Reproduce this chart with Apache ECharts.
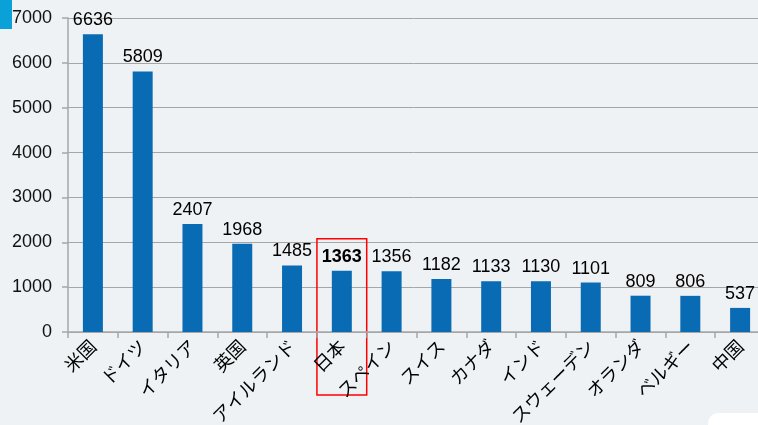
<!DOCTYPE html>
<html>
<head>
<meta charset="utf-8">
<script src="https://cdn.jsdelivr.net/npm/echarts@6/dist/echarts.min.js"></script>
<style>
  html, body { margin: 0; padding: 0; background: #eef2f5; }
  #chart { width: 758px; height: 425px; }
</style>
</head>
<body>
<div id="chart"></div>
<script>
// 国別の値
var countries = ['米国', 'ドイツ', 'イタリア', '英国', 'アイルランド', '日本', 'スペイン', 'スイス', 'カナダ', 'インド', 'スウェーデン', 'オランダ', 'ベルギー', '中国']
var values = [6636, 5809, 2407, 1968, 1485, 1363, 1356, 1182, 1133, 1130, 1101, 809, 806, 537]
var highlight = '日本'

var chart = echarts.init(document.getElementById('chart'))

var barData = values.map(function (v, i) {
    if (countries[i] === highlight) {
        return { value: v, label: { fontWeight: 'bold' } }
    }
    return v
})

chart.setOption({
    backgroundColor: '#eef2f5',
    animation: false,
    grid: {
        left: 68,
        top: 18,
        width: 697,
        bottom: 93,
        containLabel: false,
        outerBoundsMode: 'none'
    },
    xAxis: {
        type: 'category',
        data: countries,
        axisLine: { lineStyle: { color: '#a6a6a6', width: 1.5 } },
        axisTick: { show: true, length: 6, lineStyle: { color: '#a6a6a6', width: 1.5 } },
        axisLabel: {
            rotate: 45,
            margin: 11,
            color: '#000',
            fontSize: 18,
            fontFamily: 'Noto Sans CJK JP'
        }
    },
    yAxis: {
        type: 'value',
        min: 0,
        max: 7000,
        interval: 1000,
        axisLine: { show: true, lineStyle: { color: '#a6a6a6', width: 1.5 } },
        axisTick: { show: true, length: 6, lineStyle: { color: '#a6a6a6', width: 1.5 } },
        splitLine: { lineStyle: { color: '#a6a6a6', width: 1 } },
        axisLabel: {
            margin: 16,
            color: '#111',
            fontSize: 18,
            fontFamily: 'Liberation Sans',
            formatter: function (v) { return String(v) }
        }
    },
    series: [{
        type: 'bar',
        data: barData,
        barWidth: 20,
        itemStyle: { color: '#0a6bb5' },
        label: {
            show: true,
            position: 'top',
            distance: 5,
            color: '#000',
            fontSize: 18,
            fontFamily: 'Liberation Sans'
        }
    }]
})

// 日本の強調枠と飾り
var idx = countries.indexOf(highlight)
var c = chart.convertToPixel({ xAxisIndex: 0, yAxisIndex: 0 }, [idx, 0])
var c1 = chart.convertToPixel({ xAxisIndex: 0, yAxisIndex: 0 }, [idx + 1, 0])
var band = c1[0] - c[0]
var topY = chart.convertToPixel({ yAxisIndex: 0 }, 2080)

chart.setOption({
    graphic: [
        {
            type: 'rect',
            shape: { x: c[0] - band / 2, y: topY, width: band, height: c[1] + 63 - topY },
            style: { fill: 'none', stroke: '#ff0000', lineWidth: 1.5 }
        },
        {
            type: 'rect',
            shape: { x: 0, y: 0, width: 12, height: 29 },
            style: { fill: '#0aa0d8' }
        },
        {
            type: 'rect',
            shape: { x: 708, y: 413, width: 60, height: 30, r: 10 },
            style: { fill: '#ffffff' }
        }
    ]
})
</script>
</body>
</html>
